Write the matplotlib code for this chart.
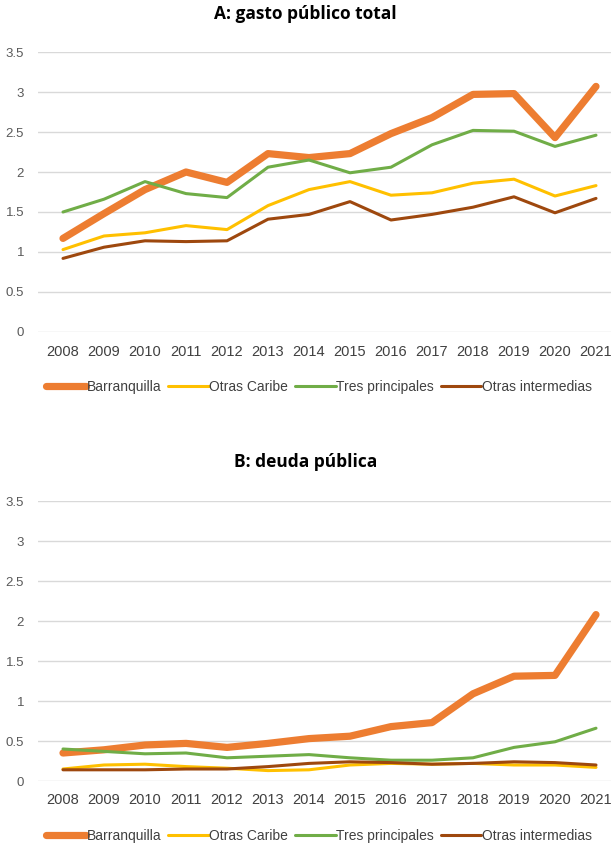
import numpy as np
import matplotlib
matplotlib.use("Agg")
import matplotlib.pyplot as plt

years = list(range(2008, 2022))
series_names = ["Barranquilla", "Otras Caribe", "Tres principales", "Otras intermedias"]

# panel A: gasto publico total
gasto_barranquilla = [1.17, 1.48, 1.78, 2.00, 1.87, 2.23, 2.18, 2.23, 2.48, 2.68, 2.97, 2.98, 2.43, 3.07]
gasto_otras_caribe = [1.03, 1.20, 1.24, 1.33, 1.28, 1.58, 1.78, 1.88, 1.71, 1.74, 1.86, 1.91, 1.70, 1.83]
gasto_tres_principales = [1.50, 1.66, 1.88, 1.73, 1.68, 2.06, 2.15, 1.99, 2.06, 2.34, 2.52, 2.51, 2.32, 2.46]
gasto_otras_intermedias = [0.92, 1.06, 1.14, 1.13, 1.14, 1.41, 1.47, 1.63, 1.40, 1.47, 1.56, 1.69, 1.49, 1.67]

# panel B: deuda publica
deuda_barranquilla = [0.35, 0.39, 0.45, 0.47, 0.42, 0.47, 0.53, 0.56, 0.68, 0.73, 1.09, 1.31, 1.32, 2.08]
deuda_otras_caribe = [0.15, 0.20, 0.21, 0.18, 0.16, 0.13, 0.14, 0.20, 0.22, 0.21, 0.22, 0.20, 0.20, 0.17]
deuda_tres_principales = [0.40, 0.37, 0.34, 0.35, 0.29, 0.31, 0.33, 0.29, 0.26, 0.26, 0.29, 0.42, 0.49, 0.66]
deuda_otras_intermedias = [0.14, 0.14, 0.14, 0.15, 0.15, 0.18, 0.22, 0.24, 0.23, 0.21, 0.22, 0.24, 0.23, 0.20]

yticks = [0, 0.5, 1, 1.5, 2, 2.5, 3, 3.5]
ytick_labels = ["0", "0.5", "1", "1.5", "2", "2.5", "3", "3.5"]

colors = ["#ED7D31", "#FFC000", "#70AD47", "#9E480E"]
widths = [5.2, 2.2, 2.2, 2.2]
tick_font = ["Liberation Sans", "DejaVu Sans"]


def draw_panel(fig, rect, title, data, title_y, legend_y):
    ax = fig.add_axes(rect)
    x = np.array(years)
    for vals, c, lw, name in zip(data, colors, widths, series_names):
        ax.plot(x, vals, color=c, lw=lw, label=name, solid_capstyle="round",
                solid_joinstyle="round")
    ax.set_xlim(2008 - 25 / 41, 2021 + 15 / 41)
    ax.set_ylim(0, 3.5)
    ax.set_yticks(yticks)
    ax.set_yticklabels(ytick_labels, family=tick_font, fontsize=9.5, color="#595959")
    ax.set_xticks(x)
    ax.set_xticklabels([str(y) for y in years], family=tick_font, fontsize=10.5,
                       color="#404040")
    ax.tick_params(length=0)
    ax.tick_params(axis="y", pad=10)
    ax.tick_params(axis="x", pad=9)
    for s in ax.spines.values():
        s.set_visible(False)
    ax.grid(axis="y", color="#D9D9D9", lw=1)
    ax.set_axisbelow(True)
    fig.text(0.5, title_y, title, ha="center", va="center", fontsize=12.5,
             fontweight="bold", family=["Open Sans", "DejaVu Sans"])
    fig.legend(*ax.get_legend_handles_labels(), loc="center", ncol=4,
               bbox_to_anchor=(0.522, legend_y), frameon=False,
               handlelength=2.9, handletextpad=0.05, columnspacing=0.5,
               prop={"family": tick_font, "size": 10}, labelcolor="#404040")
    return ax


fig = plt.figure(figsize=(6.11, 8.5), dpi=100)
H = 850.0
W = 611.0
left = 38 / W
width = 1 - left

draw_panel(fig, [left, 1 - 332 / H, width, 280 / H], "A: gasto público total",
           [gasto_barranquilla, gasto_otras_caribe, gasto_tres_principales, gasto_otras_intermedias],
           1 - 14 / H, 1 - 387 / H)
draw_panel(fig, [left, 1 - 781 / H, width, 280 / H], "B: deuda pública",
           [deuda_barranquilla, deuda_otras_caribe, deuda_tres_principales, deuda_otras_intermedias],
           1 - 462 / H, 1 - 836 / H)

fig.savefig("out.png", dpi=100)
